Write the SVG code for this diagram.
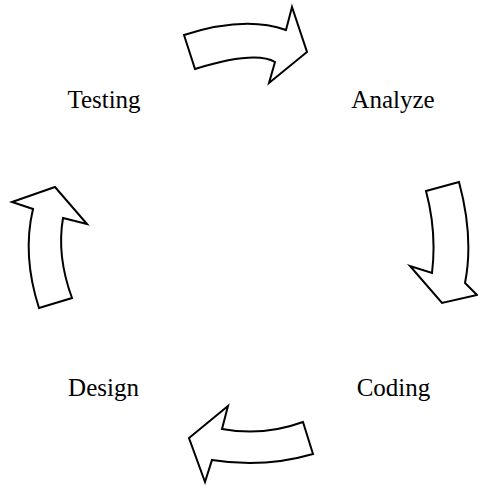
<svg xmlns="http://www.w3.org/2000/svg" width="478" height="486" viewBox="0 0 478 486">
<style>
.lbl{font-family:"Liberation Serif","Times New Roman",serif;font-size:25px;fill:#000;text-anchor:middle}
.arr{fill:#fff;stroke:#000;stroke-width:2;stroke-linejoin:miter}
</style>
<rect width="478" height="486" fill="#fff"/>
<g id="testing"><text class="lbl" x="104" y="108">Testing</text></g>
<g id="analyze"><text class="lbl" x="393" y="108">Analyze</text></g>
<g id="coding"><text class="lbl" x="393.5" y="396">Coding</text></g>
<g id="design"><text class="lbl" x="103.5" y="396">Design</text></g>
<g id="connectors">
<path class="arr" d="M184,35 Q245,15.5 286,30 L292,7 L307,52 L269,83 L275,62 Q255,50.5 195,69 Z"/>
<path class="arr" d="M426,191 Q437,232 432,273 L410,266 L442,303 L477,295 L465,283 Q474,237.5 459,182 Z"/>
<path class="arr" d="M303,422 Q263.5,436.5 222,429 L228,406 L189,438 L205,482 L212,460 Q263.5,468.4 313,454 Z"/>
<path class="arr" d="M39,308 Q22,255.5 33,209 L12,202 L55,187 L87,224 L63,218 Q56.5,256 72,298 Z"/>
</g>
</svg>
